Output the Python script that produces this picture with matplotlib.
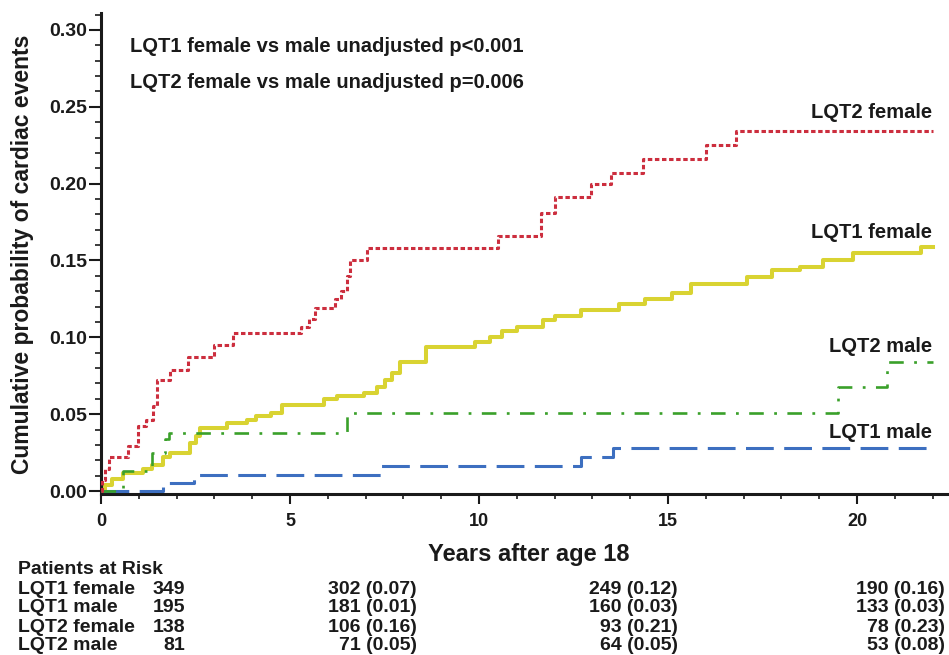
import numpy as np
import matplotlib
matplotlib.use("Agg")
import matplotlib.pyplot as plt
from matplotlib.ticker import MultipleLocator, FormatStrFormatter

plt.rcParams['font.family'] = ['Liberation Sans', 'DejaVu Sans']
plt.rcParams['font.weight'] = 'bold'
plt.rcParams['lines.scale_dashes'] = False

# step curves (years after age 18, cumulative probability)
lqt2_female_t = [0, 0.03, 0.1, 0.2, 0.72, 0.98, 1.2, 1.38, 1.48, 1.83, 2.3, 3.0, 3.5, 5.3, 5.5, 5.65,
                 6.2, 6.35, 6.5, 6.6, 7.05, 10.5, 11.65, 12.0, 12.95, 13.5, 14.35, 16.0, 16.8, 22.0]
lqt2_female_p = [0, 0.007, 0.014, 0.022, 0.029, 0.042, 0.046, 0.055, 0.072, 0.079, 0.087, 0.095, 0.103,
                 0.107, 0.112, 0.119, 0.125, 0.130, 0.140, 0.150, 0.158, 0.166, 0.181, 0.191, 0.200,
                 0.207, 0.216, 0.225, 0.234, 0.234]

lqt1_female_t = [0, 0.1, 0.3, 0.58, 1.1, 1.35, 1.65, 1.83, 2.36, 2.5, 2.63, 3.34, 3.87, 4.1, 4.5, 4.8,
                 5.9, 6.25, 6.95, 7.3, 7.5, 7.7, 7.9, 8.6, 9.9, 10.3, 10.6, 11.0, 11.7, 12.0, 12.7,
                 13.7, 14.4, 15.1, 15.6, 17.1, 17.75, 18.5, 19.1, 19.9, 21.7, 22.0]
lqt1_female_p = [0, 0.004, 0.008, 0.012, 0.014, 0.017, 0.022, 0.025, 0.031, 0.036, 0.041, 0.044, 0.046,
                 0.049, 0.051, 0.056, 0.060, 0.062, 0.064, 0.068, 0.072, 0.077, 0.084, 0.094, 0.097,
                 0.100, 0.104, 0.107, 0.111, 0.114, 0.118, 0.122, 0.125, 0.129, 0.135, 0.139, 0.144,
                 0.146, 0.150, 0.155, 0.159, 0.159]

lqt2_male_t = [0, 0.58, 1.35, 1.7, 1.8, 6.5, 19.5, 20.8, 22.0]
lqt2_male_p = [0, 0.013, 0.025, 0.034, 0.038, 0.051, 0.068, 0.084, 0.084]

lqt1_male_t = [0, 1.65, 2.45, 7.4, 12.7, 13.55, 22.0]
lqt1_male_p = [0, 0.005, 0.0105, 0.016, 0.022, 0.028, 0.028]

# patients at risk table
risk_groups = ['LQT1 female', 'LQT1 male', 'LQT2 female', 'LQT2 male']
risk_start = ['349', '195', '138', '81']
risk_col2 = ['302 (0.07)', '181 (0.01)', '106 (0.16)', '71 (0.05)']
risk_col3 = ['249 (0.12)', '160 (0.03)', '93 (0.21)', '64 (0.05)']
risk_col4 = ['190 (0.16)', '133 (0.03)', '78 (0.23)', '53 (0.08)']

W, H = 949, 655
def fx(px):
    return px / W
def fy(py):
    return 1 - py / H

fig = plt.figure(figsize=(W / 100, H / 100), dpi=100)
ax = fig.add_axes([fx(101), fy(494), fx(951) - fx(101), fy(13) - fy(494)])

ax.step(lqt1_female_t, lqt1_female_p, where='post', color='#d9d332', lw=2.9, zorder=2)
ax.step(lqt1_male_t, lqt1_male_p, where='post', color='#3d6fc0', lw=2.2,
        linestyle=(0, (20, 7.5)), zorder=3)
ax.step(lqt2_male_t, lqt2_male_p, where='post', color='#3aa02a', lw=1.9,
        linestyle=(0, (10.5, 7.5, 2, 7.5)), zorder=3)
ax.step(lqt2_female_t, lqt2_female_p, where='post', color='#cc2e3e', lw=2.2,
        linestyle=(0, (3.2, 1.9)), zorder=4)

ax.set_xlim(0, 850 / 37.8)
ax.set_ylim(-3 / 1536.7, 478 / 1536.7)

for s in ['top', 'right']:
    ax.spines[s].set_visible(False)
for s in ['left', 'bottom']:
    ax.spines[s].set_linewidth(2.2)
    ax.spines[s].set_color('#1a1a1a')

ax.xaxis.set_major_locator(MultipleLocator(5))
ax.xaxis.set_minor_locator(MultipleLocator(1))
ax.yaxis.set_major_locator(MultipleLocator(0.05))
ax.yaxis.set_minor_locator(MultipleLocator(0.01))
ax.yaxis.set_major_formatter(FormatStrFormatter('%.2f'))

ax.tick_params(axis='y', which='major', direction='out', length=9, width=1.5, pad=1,
               labelsize=14, colors='#1a1a1a')
ax.tick_params(axis='y', which='minor', direction='out', length=4, width=1.2, colors='#1a1a1a')
ax.tick_params(axis='x', which='major', direction='out', length=7, width=1.5, pad=7,
               labelsize=13, colors='#1a1a1a')
ax.tick_params(axis='x', which='minor', direction='out', length=3.5, width=1.2, colors='#1a1a1a')

txt = '#1a1a1a'
fig.text(fx(23), fy(254), 'Cumulative probability of cardiac events', rotation=90,
         ha='center', va='center', fontsize=16.5, color=txt)
fig.text(fx(529), fy(555), 'Years after age 18', ha='center', va='center', fontsize=17, color=txt)

fig.text(fx(130), fy(46), 'LQT1 female vs male unadjusted p<0.001', ha='left', va='center',
         fontsize=14.5, color=txt)
fig.text(fx(130), fy(83), 'LQT2 female vs male unadjusted p=0.006', ha='left', va='center',
         fontsize=14.5, color=txt)

fig.text(fx(932), fy(113), 'LQT2 female', ha='right', va='center', fontsize=14.5, color=txt)
fig.text(fx(932), fy(232), 'LQT1 female', ha='right', va='center', fontsize=14.5, color=txt)
fig.text(fx(932), fy(347), 'LQT2 male', ha='right', va='center', fontsize=14.5, color=txt)
fig.text(fx(932), fy(432), 'LQT1 male', ha='right', va='center', fontsize=14.5, color=txt)

# patients at risk
fig.text(fx(18), fy(570), 'Patients at Risk', ha='left', va='center', fontsize=14, color=txt)
row_y = [589, 608, 627, 646]
for i, g in enumerate(risk_groups):
    fig.text(fx(18), fy(row_y[i]), g, ha='left', va='center', fontsize=14, color=txt)
    fig.text(fx(185), fy(row_y[i]), risk_start[i], ha='right', va='center', fontsize=14, color=txt)
    fig.text(fx(417), fy(row_y[i]), risk_col2[i], ha='right', va='center', fontsize=14, color=txt)
    fig.text(fx(678), fy(row_y[i]), risk_col3[i], ha='right', va='center', fontsize=14, color=txt)
    fig.text(fx(945), fy(row_y[i]), risk_col4[i], ha='right', va='center', fontsize=14, color=txt)

fig.savefig('out.png', dpi=100)
